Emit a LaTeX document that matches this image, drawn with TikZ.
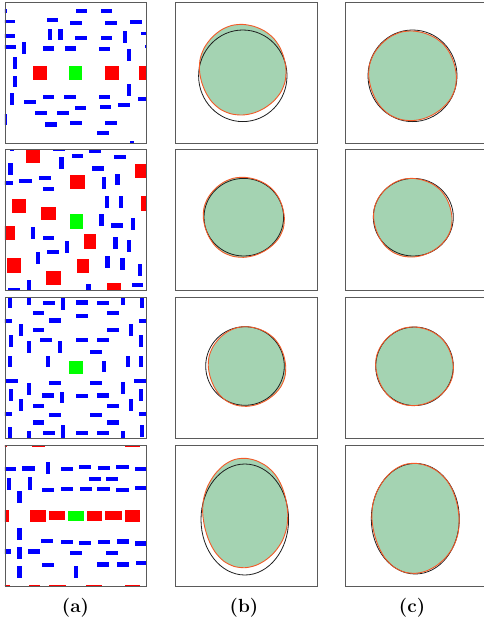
\documentclass[tikz,border=0pt]{standalone}
\usepackage{fontspec}
\usepackage{tikz}
\definecolor{framegray}{RGB}{90,90,90}
\definecolor{predfill}{RGB}{164,211,178}
\definecolor{predline}{RGB}{242,90,40}
\definecolor{truthline}{RGB}{30,30,30}
\newcommand\labelfont{\bfseries\fontsize{19}{22}\selectfont}
\tikzset{
  panel/.style={draw=framegray, line width=0.9pt},
  obst/.style={fill=blue},
  box/.style={fill=red},
  goal/.style={fill=green},
  predarea/.style={fill=predfill},
  prededge/.style={draw=predline, line width=0.9pt},
  truth/.style={draw=truthline, line width=0.8pt},
  sublabel/.style={font=\labelfont}
}
\newcommand\estimate[8]{%
  \fill[predarea] plot[smooth cycle, domain=0:345, samples=24, variable=\t]
    ({#5+#7*cos(\t)*(1+0.015*sin(4*\t))}, {#6+#8*sin(\t)*(1+0.015*cos(3*\t))});
  \draw[truth] (#1,#2) ellipse [x radius=#3, y radius=#4];
  \draw[prededge] plot[smooth cycle, domain=0:345, samples=24, variable=\t]
    ({#5+#7*cos(\t)*(1+0.015*sin(4*\t))}, {#6+#8*sin(\t)*(1+0.015*cos(3*\t))});
}

\begin{document}
\begin{tikzpicture}[x=1pt, y=-1pt]
  \useasboundingbox (0,0) rectangle (484,621);

  % column (a)
  \begin{scope}[shift={(0,0)}, scale=0.3333]
    \clip (15,7) rectangle (440,430);
    \foreach \xa/\ya/\xb/\yb in {-14/28/21/40, 229/28/262/40, 302/28/336/40, 11/59/46/70,
        140/54/174/66, 210/62/245/74, 316/63/352/75, 391/61/427/72, 143/86/156/120,
        175/86/188/120, 9/102/44/114, 225/107/260/120, 302/109/336/121, 370/94/382/128,
        423/95/458/105, 12/134/47/146, 67/126/79/162, 129/139/162/152, 194/139/227/152,
        297/141/330/153, 436/135/471/145, 381/148/394/183, 40/172/52/208, 40/227/52/262,
        381/253/394/289, 29/280/41/316, 129/286/162/298, 191/286/227/298, 297/286/331/297,
        413/292/448/304, 73/301/107/313, 225/317/259/329, 299/316/334/328, 355/309/390/321,
        106/332/141/345, 170/332/206/345, 9/342/21/376, 134/367/171/380, 210/362/245/375,
        316/363/352/375, 290/394/326/406, 389/424/402/459}
      \fill[obst] (\xa,\ya) rectangle (\xb,\yb);
    \foreach \xa in {98,316,418}
      \fill[box] (\xa,197) rectangle ++(42,43);
    \fill[goal] (207,197) rectangle (247,239);
  \end{scope}

  \begin{scope}[shift={(0,145)}, scale=0.3333]
    \clip (15,13) rectangle (440,438);
    \foreach \xa/\ya/\xb/\yb in {29/-20/41/18, 160/5/195/17, 268/12/303/24, 178/35/191/72,
        215/27/250/40, 343/30/379/43, 25/53/38/89, 276/64/312/77, 3/107/38/120,
        58/102/95/115, 118/94/154/106, 305/97/318/132, 346/86/359/121, 128/125/163/137,
        315/153/328/189, 356/153/369/189, 298/208/311/242, 334/235/369/248, 393/219/405/254,
        93/247/106/283, 128/273/163/285, 195/287/208/323, 340/275/353/311, 381/286/394/322,
        141/315/177/328, 108/322/121/357, 316/333/329/368, 361/340/374/376, 414/357/427/394,
        25/429/59/441, 80/405/93/441, 259/417/272/452, 395/413/430/426}
      \fill[obst] (\xa,\ya) rectangle (\xb,\yb);
    \foreach \xa/\ya/\xb/\yb in {78/13/120/55, 404/57/446/99, 209/90/254/132, 35/163/77/203,
        123/186/168/224, 423/152/465/199, 4/243/46/284, 251/266/287/313, 21/340/62/383,
        232/342/268/385, 139/378/182/419, 321/415/362/455}
      \fill[box] (\xa,\ya) rectangle (\xb,\yb);
    \fill[goal] (209,207) rectangle (249,251);
  \end{scope}

  \begin{scope}[shift={(0,292)}, scale=0.3333]
    \clip (15,16) rectangle (440,438);
    \foreach \xa/\ya/\xb/\yb in {24/12/36/47, 82/2/94/38, 128/27/164/39, 183/17/196/54,
        228/25/264/38, 291/27/327/39, 362/2/374/38, 420/12/432/47, 98/57/133/70,
        228/65/264/77, 322/57/357/70, 148/79/184/92, 2/82/37/94, 417/82/452/94,
        57/97/69/132, 98/107/133/120, 322/107/357/120, 386/97/398/132, 27/128/39/164,
        121/138/157/151, 228/137/264/149, 292/138/328/151, 417/128/429/164, 81/148/93/183,
        175/148/187/183, 271/174/307/187, 25/191/37/226, 137/191/149/226, 307/206/319/241,
        378/191/390/226, 417/191/429/226, 17/260/54/272, 148/267/184/280, 271/267/307/280,
        401/260/437/272, 81/273/93/308, 363/271/375/306, 27/291/39/326, 417/291/429/326,
        127/304/162/317, 181/299/193/334, 228/306/264/319, 292/304/328/317, 57/322/69/357,
        98/336/133/349, 322/336/357/349, 386/322/398/357, 2/361/37/373, 148/362/184/375,
        271/362/307/375, 417/361/452/373, 98/385/133/398, 322/385/357/398, 24/406/36/442,
        82/417/94/452, 128/417/164/429, 183/400/196/437, 228/417/264/430, 291/417/327/429,
        362/417/374/452, 420/400/432/436}
      \fill[obst] (\xa,\ya) rectangle (\xb,\yb);
    \fill[goal] (207,207) rectangle (249,247);
  \end{scope}

  \begin{scope}[shift={(0,440)}, scale=0.3333]
    \clip (15,16) rectangle (440,438);
    \foreach \xa/\ya/\xb/\yb in {13/81/48/93, 67/79/105/92, 138/66/151/103, 183/81/219/94,
        237/75/273/88, 294/78/330/90, 348/74/386/87, 404/81/440/94, 266/110/302/122,
        318/110/355/122, 21/114/34/150, 83/112/96/149, 126/143/162/156, 183/141/219/154,
        239/141/275/154, 292/141/329/154, 348/143/386/156, 406/138/442/151, 52/154/65/190,
        52/265/65/300, 123/298/160/310, 183/300/219/313, 237/302/273/314, 294/300/330/313,
        350/298/386/311, 406/304/442/317, -3/328/32/341, 52/321/65/357, 84/328/120/341,
        209/332/245/345, 319/332/355/344, 126/369/162/382, 222/378/235/414, 52/377/65/413,
        290/366/326/380, 350/367/388/380, 408/362/444/375}
      \fill[obst] (\xa,\ya) rectangle (\xb,\yb);
    \foreach \xa/\ya/\xb/\yb in {-21/-22/21/20, 96/-20/135/22, 207/-23/249/19, 375/-21/420/21,
        -12/436/30/478, 88/436/120/478, 147/436/198/478, 258/434/305/476, 375/434/420/476,
        -16/210/26/245, 91/210/138/245, 148/213/195/241, 261/213/306/243, 316/213/366/241,
        376/209/420/245}
      \fill[box] (\xa,\ya) rectangle (\xb,\yb);
    \fill[goal] (204,213) rectangle (251,243);
  \end{scope}

  % columns (b) and (c)
  \estimate{242.8}{75.8}{44.2}{45.8}{242.7}{69.7}{43.3}{45.3}
  \estimate{243.8}{217.2}{39.8}{38.8}{243.8}{217.3}{40.5}{40}
  \estimate{245}{366}{39.3}{39.3}{247}{366.5}{38.7}{39.8}
  \estimate{244.8}{519.5}{43.8}{55.5}{245.2}{513}{42.5}{54.7}
  \estimate{412.5}{75.8}{44.5}{45.8}{412.5}{75.8}{43.8}{44.8}
  \estimate{413.3}{217.2}{40}{38.8}{412.8}{217.7}{39.2}{39.3}
  \estimate{414.5}{366.3}{38.8}{39.3}{414.5}{366.3}{38.8}{39.3}
  \estimate{415.3}{518.7}{44}{55.3}{415.5}{518.3}{43.6}{55}

  \foreach \x in {5,175.7,345}
    \foreach \y in {2.3,149.3,297.3,445.3}
      \draw[panel] (\x,\y) rectangle ++(141.7,141);

  \node[sublabel] (lbla) at (75.5,608) {(a)};
  \node[sublabel] (lblb) at (244,608) {(b)};
  \node[sublabel] (lblc) at (412,608) {(c)};
\end{tikzpicture}
\end{document}
